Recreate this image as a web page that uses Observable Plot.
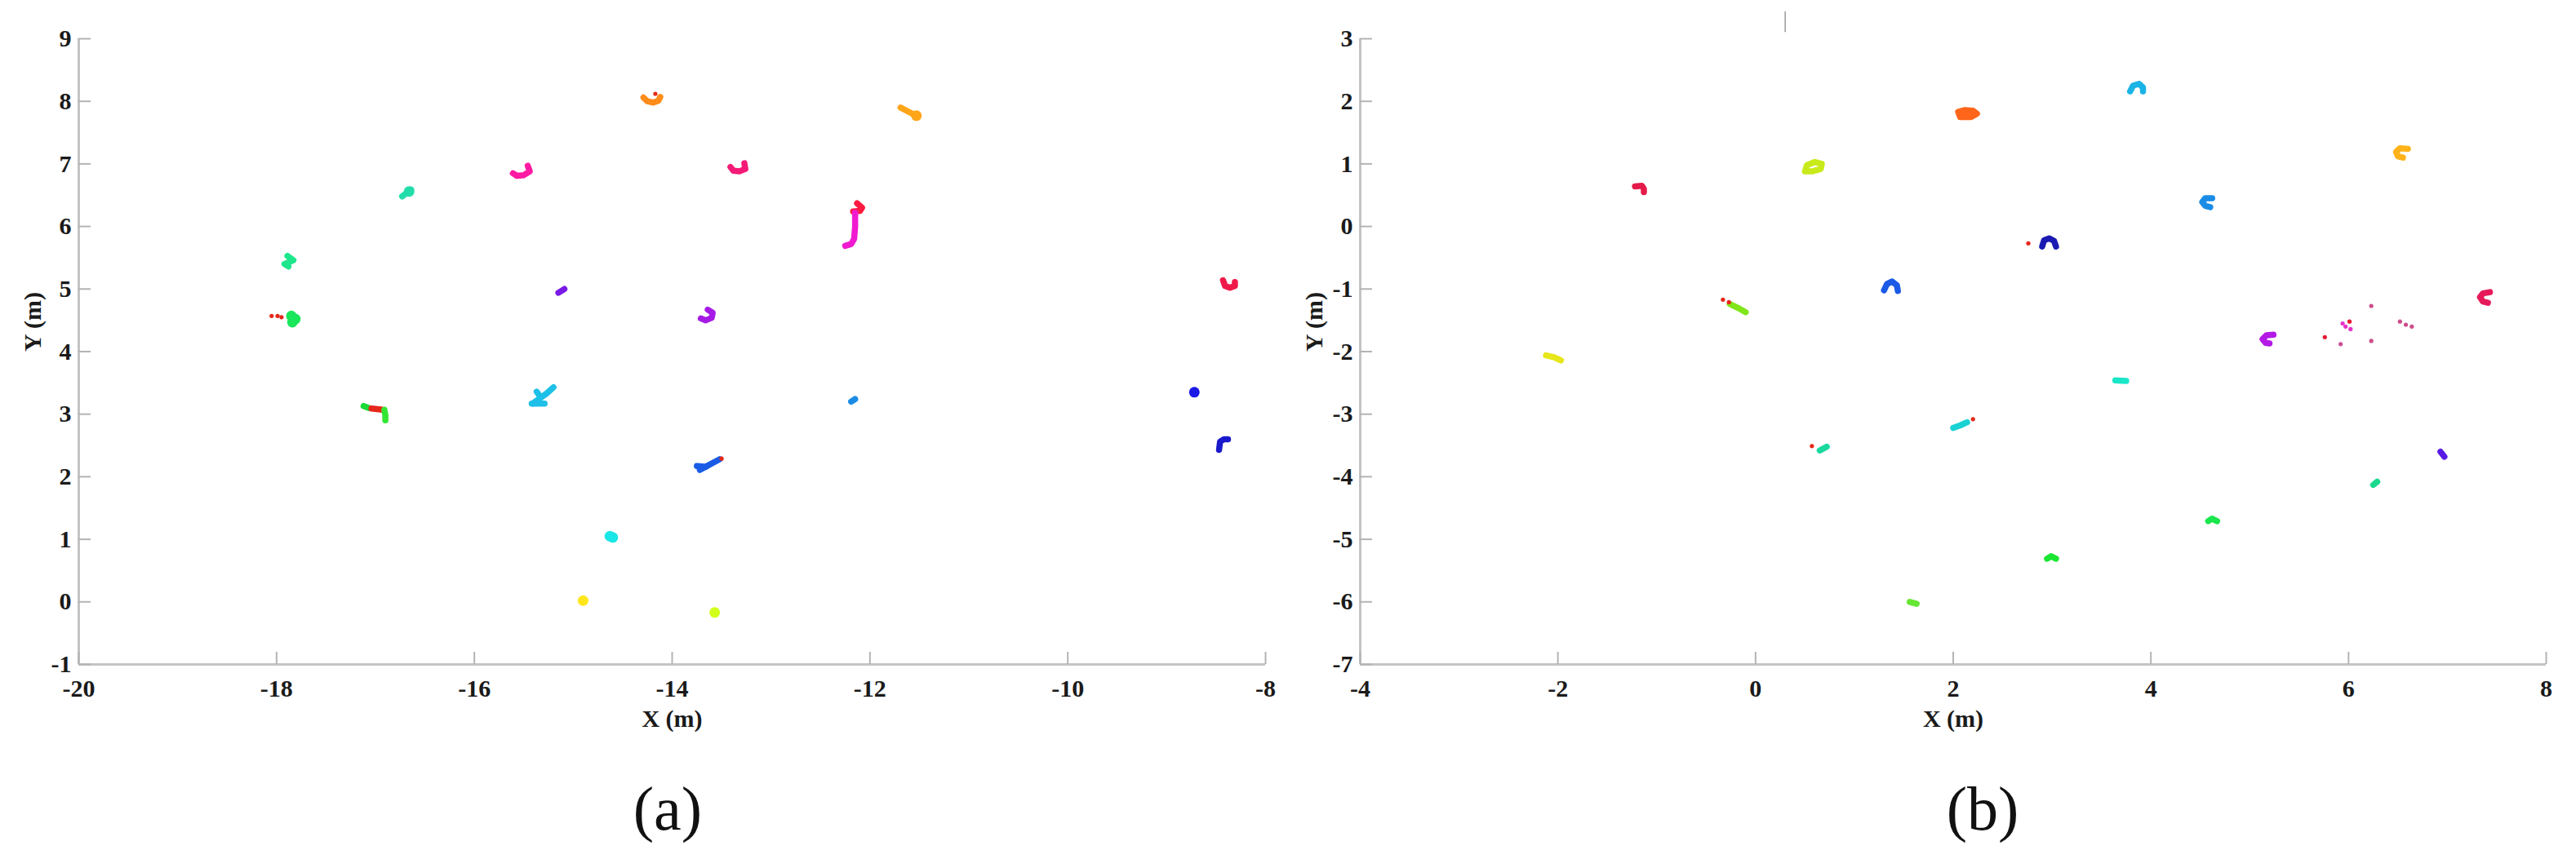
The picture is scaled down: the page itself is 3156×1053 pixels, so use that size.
<!DOCTYPE html>
<html><head><meta charset="utf-8">
<script src="https://cdn.jsdelivr.net/npm/d3@7"></script>
<script src="https://cdn.jsdelivr.net/npm/@observablehq/plot@0.6"></script>
<style>
html,body{margin:0;padding:0;background:#fff;}
#page{position:relative;width:3156px;height:1053px;overflow:hidden;background:#fff;}
.panel{position:absolute;top:0;}
.cap{position:absolute;font-family:"Liberation Serif","Times New Roman",serif;font-size:76px;line-height:76px;text-align:center;width:240px;color:#111;}
</style></head><body><div id="page"></div>
<script>
// ---------- Panel (a) ----------
const aXTicks = [-20, -18, -16, -14, -12, -10, -8];
const aYTicks = [-1, 0, 1, 2, 3, 4, 5, 6, 7, 8, 9];
const aTrackX = [
  [-14.29,-14.25,-14.19,-14.14,-14.12],
  [-11.69,-11.63,-11.57,-11.52],
  [-13.27,-13.26,-13.32,-13.38,-13.41],
  [-15.46,-15.44,-15.50,-15.57,-15.61],
  [-16.73,-16.64],
  [-12.13,-12.08,-12.10,-12.17],
  [-12.15,-12.15,-12.16,-12.19,-12.25],
  [-17.89,-17.83,-17.92,-17.88],
  [-15.15,-15.09],
  [-13.64,-13.59,-13.60,-13.66,-13.71],
  [-8.43,-8.41,-8.36,-8.31,-8.31],
  [-17.12,-17.07],
  [-17.04,-16.93],
  [-16.91,-16.90,-16.90],
  [-15.20,-15.27,-15.34,-15.41],
  [-15.42,-15.29],
  [-15.37,-15.33],
  [-12.19,-12.15],
  [-13.75,-13.66,-13.59,-13.52],
  [-13.72,-13.66],
  [-8.47,-8.46,-8.42,-8.38]
];
const aTrackY = [
  [8.06,8.00,7.98,8.01,8.07],
  [7.90,7.85,7.80,7.75],
  [7.01,6.92,6.88,6.89,6.95],
  [6.97,6.88,6.82,6.81,6.85],
  [6.48,6.59],
  [6.37,6.30,6.25,6.24],
  [6.22,6.00,5.80,5.72,5.69],
  [5.53,5.46,5.40,5.36],
  [4.94,5.00],
  [4.67,4.62,4.54,4.50,4.53],
  [5.14,5.05,5.02,5.05,5.11],
  [3.13,3.10],
  [3.09,3.07],
  [3.07,2.98,2.90],
  [3.43,3.33,3.25,3.17],
  [3.17,3.17],
  [3.36,3.27],
  [3.20,3.24],
  [2.17,2.16,2.22,2.28],
  [2.11,2.16],
  [2.43,2.56,2.60,2.60]
];
const aTrackColor = ["#ff8c1a","#ffa51a","#f51a78","#ff1aa3","#22ddaa","#ff1a40","#f01ad0","#1ee68c",
  "#7a1ae6","#a61ae6","#f01a4a","#1ad936","#e6261a","#33e633","#1ec0e8","#1ec0e8","#1ec0e8",
  "#1a8ce6","#1a5ce6","#1a5ce6","#1a1acc"];
const aBlobX = [-17.85,-17.84,-17.81,-14.63,-14.60,-14.90,-13.57,-8.72,-11.53,-16.66];
const aBlobY = [4.57,4.47,4.52,1.05,1.03,0.02,-0.17,3.35,7.77,6.56];
const aBlobColor = ["#1ae65a","#1ae65a","#1ae65a","#1ae6e6","#1ae6e6","#ffe61a","#d2ff1a","#1a1ae6","#ffa51a","#22ddaa"];
const aSpeckX = [-14.17,-18.05,-17.99,-17.95,-13.50];
const aSpeckY = [8.12,4.57,4.57,4.55,2.29];
const aSpeckColor = ["#e6261a","#e6261a","#e6261a","#e6261a","#e6261a"];

// ---------- Panel (b) ----------
const bXTicks = [-4, -2, 0, 2, 4, 6, 8];
const bYTicks = [-7, -6, -5, -4, -3, -2, -1, 0, 1, 2, 3];
const bTrackX = [
  [-1.22,-1.15,-1.13,-1.13],
  [0.50,0.52,0.60,0.67,0.66,0.57,0.50],
  [1.30,1.33,1.38,1.43,1.44],
  [-0.26,-0.18,-0.10],
  [-2.12,-2.04,-1.97],
  [0.65,0.72],
  [1.56,1.63],
  [2.07,2.05,2.12,2.20,2.24,2.18,2.07],
  [3.79,3.82,3.88,3.92,3.92],
  [6.60,6.52,6.48,6.50,6.55],
  [4.62,4.55,4.52,4.55,4.60],
  [2.90,2.92,2.97,3.02,3.04],
  [7.43,7.36,7.33,7.36,7.41],
  [5.24,5.17,5.13,5.16,5.20],
  [3.64,3.75],
  [2.00,2.07,2.14],
  [6.93,6.97],
  [6.25,6.29],
  [4.58,4.62,4.67],
  [2.95,2.99,3.04]
];
const bTrackY = [
  [0.64,0.65,0.60,0.55],
  [0.88,0.98,1.03,1.00,0.92,0.88,0.88],
  [-1.02,-0.92,-0.88,-0.94,-1.03],
  [-1.24,-1.30,-1.37],
  [-2.06,-2.09,-2.14],
  [-3.58,-3.52],
  [-6.00,-6.03],
  [1.75,1.83,1.86,1.85,1.80,1.75,1.75],
  [2.16,2.25,2.28,2.22,2.16],
  [1.24,1.25,1.19,1.12,1.10],
  [0.45,0.45,0.39,0.33,0.31],
  [-0.32,-0.22,-0.19,-0.23,-0.32],
  [-1.05,-1.07,-1.13,-1.20,-1.22],
  [-1.73,-1.74,-1.80,-1.86,-1.87],
  [-2.46,-2.47],
  [-3.22,-3.18,-3.13],
  [-3.60,-3.68],
  [-4.13,-4.08],
  [-4.71,-4.67,-4.71],
  [-5.31,-5.27,-5.31]
];
const bTrackColor = ["#e61a4a","#c8ea1a","#1a5ae6","#80e61a","#e6e61a","#1ad99e","#66e633","#ff661a",
  "#1ab3e6","#ffb31a","#1a8ce6","#1a1ab3","#e61a5a","#b31ae6","#1ae6c8","#1ad2d2","#5a1ae6",
  "#1ad98c","#1ae64d","#1ae633"];
const bBlobX = [2.15];
const bBlobY = [1.80];
const bBlobColor = ["#ff661a"];
const bSpeckX = [-0.33,-0.27,0.57,2.76,2.20,6.23,5.94,5.97,6.02,6.01,5.76,5.92,6.23,6.52,6.58,6.64];
const bSpeckY = [-1.17,-1.21,-3.51,-0.27,-3.08,-1.27,-1.55,-1.60,-1.64,-1.52,-1.77,-1.88,-1.83,-1.52,-1.57,-1.60];
const bSpeckColor = ["#e6261a","#e6261a","#e6261a","#e6261a","#e6261a","#cc4d8c","#e633c8","#e633c8","#e633c8",
  "#e61a33","#e61a33","#cc4d99","#cc4d8c","#cc4d8c","#cc4d8c","#cc4d8c"];
const bMarkX = [0.3];
const bMarkY1 = [3.1];
const bMarkY2 = [3.43];

// ---------- drawing ----------
const SERIF = '"Liberation Serif","Times New Roman",serif';
const H = 930, MT = 47, MB = 116;

function makePanel(o) {
  const fw = o.width - o.mL - o.mR, fh = H - MT - MB;
  const tracks = [];
  o.tx.forEach((xs, k) => xs.forEach((x, i) => tracks.push({id: k, x, y: o.ty[k][i], c: o.tc[k]})));
  const blobs = o.bx.map((x, i) => ({x, y: o.by[i], c: o.bc[i]}));
  const specks = o.sx.map((x, i) => ({x, y: o.sy[i], c: o.sc[i]}));
  const fmt = d => String(d);
  const marks = [
    Plot.ruleY([o.yd[0]], {stroke: "#c4c4c4", strokeWidth: 3}),
    Plot.ruleX([o.xd[0]], {stroke: "#c4c4c4", strokeWidth: 3}),
    Plot.tickY(o.yt, {y: d => d, insetRight: fw - 15, stroke: "#b4b4b4", strokeWidth: 2}),
    Plot.tickX(o.xt, {x: d => d, insetTop: fh - 15, stroke: "#b4b4b4", strokeWidth: 2}),
    Plot.axisX(o.xt, {tickSize: 0, tickPadding: 18, tickFormat: fmt, fontSize: 30, fontWeight: "bold", fill: "#1a1a1a", label: null}),
    Plot.axisY(o.yt, {tickSize: 0, tickPadding: 9, tickFormat: fmt, fontSize: 30, fontWeight: "bold", fill: "#1a1a1a", label: null}),
    Plot.text(["X (m)"], {frameAnchor: "bottom", dy: 55, lineAnchor: "top", fontSize: 30, fontWeight: "bold", fill: "#1a1a1a"}),
    Plot.text(["Y (m)"], {frameAnchor: "left", dx: -56, rotate: -90, fontSize: 30, fontWeight: "bold", fill: "#1a1a1a"}),
    Plot.line(tracks, {x: "x", y: "y", z: "id", stroke: "c", strokeWidth: 7.5, strokeLinecap: "round", strokeLinejoin: "round"}),
    Plot.dot(blobs, {x: "x", y: "y", fill: "c", r: 6.5}),
    Plot.dot(specks, {x: "x", y: "y", fill: "c", r: 2.6})
  ];
  if (o.extra) marks.push(o.extra);
  const svg = Plot.plot({
    width: o.width, height: H,
    marginLeft: o.mL, marginRight: o.mR, marginTop: MT, marginBottom: MB,
    x: {domain: o.xd, axis: null},
    y: {domain: o.yd, axis: null},
    color: {type: "identity"},
    style: {fontFamily: SERIF, background: "white", overflow: "visible"},
    marks
  });
  const div = document.createElement("div");
  div.className = "panel";
  div.style.left = o.left + "px";
  div.appendChild(svg);
  document.getElementById("page").appendChild(div);
  const cap = document.createElement("div");
  cap.className = "cap";
  cap.textContent = o.caption;
  cap.style.left = (o.capX - 120) + "px";
  cap.style.top = "953px";
  document.getElementById("page").appendChild(cap);
}

makePanel({left: 0, width: 1578, mL: 96, mR: 28, xd: [-20, -8], yd: [-1, 9], xt: aXTicks, yt: aYTicks,
  tx: aTrackX, ty: aTrackY, tc: aTrackColor, bx: aBlobX, by: aBlobY, bc: aBlobColor,
  sx: aSpeckX, sy: aSpeckY, sc: aSpeckColor, caption: "(a)", capX: 818});

makePanel({left: 1578, width: 1578, mL: 88, mR: 37, xd: [-4, 8], yd: [-7, 3], xt: bXTicks, yt: bYTicks,
  tx: bTrackX, ty: bTrackY, tc: bTrackColor, bx: bBlobX, by: bBlobY, bc: bBlobColor,
  sx: bSpeckX, sy: bSpeckY, sc: bSpeckColor, caption: "(b)", capX: 2429,
  extra: Plot.ruleX(bMarkX, {x: d => d, y1: (d, i) => bMarkY1[i], y2: (d, i) => bMarkY2[i], stroke: "#999", strokeWidth: 1.5})});
</script>
</body></html>
